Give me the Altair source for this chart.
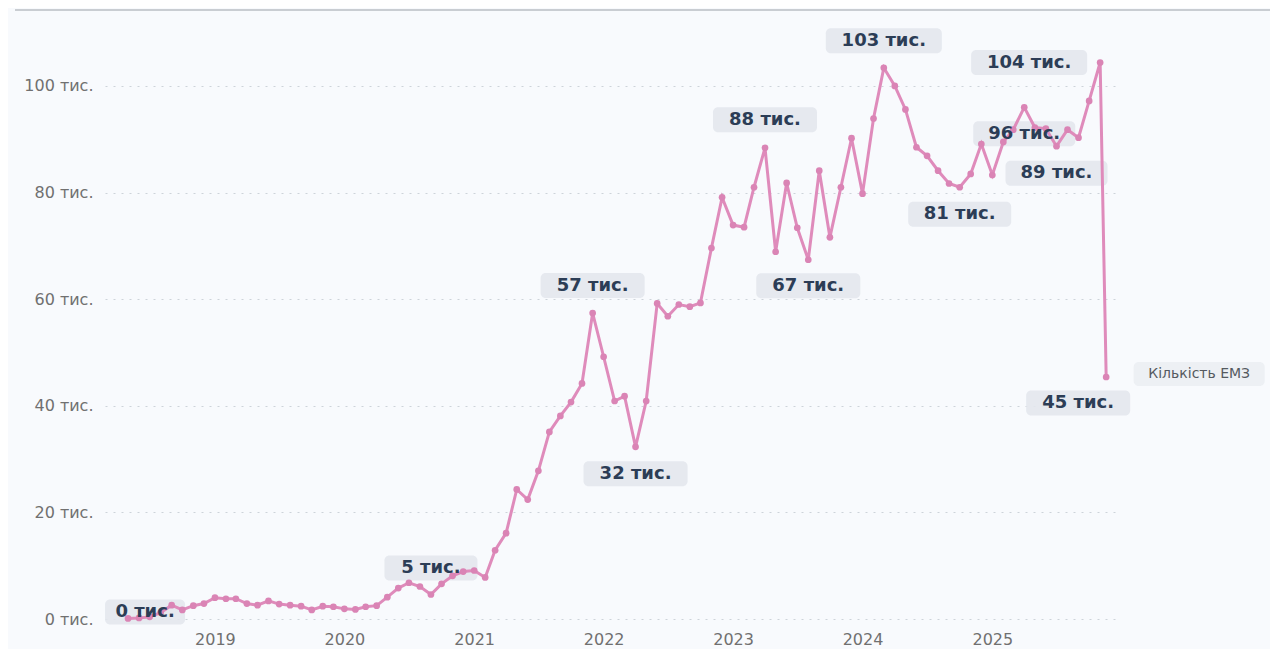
import altair as alt
import pandas as pd

# ---------------- data (values in thousands) ----------------
first_month = "2018-05-01"
last_month = "2025-11-01"
values_2018 = [0.1, 0.2, 0.4, 1.2, 2.6, 1.7, 2.5, 2.9]  # May..Dec
values_2019 = [4.0, 3.8, 3.8, 2.9, 2.6, 3.4, 2.8, 2.6, 2.4, 1.7, 2.4, 2.3]
values_2020 = [1.9, 1.8, 2.3, 2.5, 4.1, 5.8, 6.8, 6.1, 4.6, 6.6, 8.1, 8.9]
values_2021 = [9.1, 7.8, 12.9, 16.1, 24.3, 22.4, 27.8, 35.1, 38.1, 40.7, 44.2, 57.4]
values_2022 = [49.2, 40.9, 41.8, 32.3, 40.9, 59.2, 56.8, 59.0, 58.6, 59.3, 69.6, 79.1]
values_2023 = [73.9, 73.5, 81.0, 88.4, 68.9, 81.8, 73.4, 67.4, 84.1, 71.6, 81.0, 90.2]
values_2024 = [79.8, 93.9, 103.4, 100.0, 95.6, 88.5, 86.9, 84.1, 81.7, 81.0, 83.5, 89.1]
values_2025 = [83.3, 89.5, 91.8, 96.0, 92.2, 92.0, 88.7, 91.8, 90.3, 97.2, 104.4]  # Jan..Nov
last_date = "2025-11-18"
last_value = 45.4
series_name = "Кількість ЕМЗ"

y_ticks = [0, 20, 40, 60, 80, 100]
year_ticks = [2019, 2020, 2021, 2022, 2023, 2024, 2025]

label_dates = ["2018-05-01", "2020-09-01", "2021-12-01", "2022-04-01", "2023-04-01",
               "2023-08-01", "2024-03-01", "2024-10-01", "2025-04-01", "2025-07-01",
               "2025-11-01", "2025-11-18"]
label_texts = ["0 тис.", "5 тис.", "57 тис.", "32 тис.", "88 тис.", "67 тис.",
               "103 тис.", "81 тис.", "96 тис.", "89 тис.", "104 тис.", "45 тис."]

# label placement relative to its point (pixels) -- layout, not data
label_dx = [17, 0, 0, 0, 0, 0, 0, 0, 0, 0, -71, -28]
label_dy = [-6.5, -26.5, -27.5, 27, -28, 26, -27, 27, 26.5, 27, 0, 26]
label_w = [80, 93, 104, 104, 104, 104, 116, 103, 102, 102, 116, 104]
name_dx, name_dy, name_w = 93, -3, 131

# ---------------- layout ----------------
W, H = 1015, 597
x_start, x_end = "2018-02-25", "2025-12-27"
y_max = 112
BOX_H = 25


def ms(d):
    return int(pd.Timestamp(d).value // 10**6)


PX_PER_MS = W / (ms(x_end) - ms(x_start))
PX_PER_K = H / y_max

all_values = (values_2018 + values_2019 + values_2020 + values_2021 +
              values_2022 + values_2023 + values_2024 + values_2025)
months = pd.date_range(first_month, last_month, freq="MS")
series = pd.DataFrame({"t": [ms(m) for m in months], "v": all_values})
series = pd.concat([series, pd.DataFrame({"t": [ms(last_date)], "v": [last_value]})],
                   ignore_index=True)
lookup = dict(zip(series["t"], series["v"]))

rows = []
for d, txt, dx, dy, w in zip(label_dates, label_texts, label_dx, label_dy, label_w):
    t0 = ms(d)
    v0 = lookup[t0]
    tc = t0 + dx / PX_PER_MS
    vc = v0 - dy / PX_PER_K
    rows.append({"text": txt, "tc": tc, "vc": vc,
                 "t1": tc - w / 2 / PX_PER_MS, "t2": tc + w / 2 / PX_PER_MS,
                 "v1": vc - BOX_H / 2 / PX_PER_K, "v2": vc + BOX_H / 2 / PX_PER_K})
labels = pd.DataFrame(rows)

t0 = ms(last_date)
tc = t0 + name_dx / PX_PER_MS
vc = last_value - name_dy / PX_PER_K
name_df = pd.DataFrame([{"text": series_name, "tc": tc, "vc": vc,
                         "t1": tc - name_w / 2 / PX_PER_MS, "t2": tc + name_w / 2 / PX_PER_MS,
                         "v1": vc - 24 / 2 / PX_PER_K, "v2": vc + 24 / 2 / PX_PER_K}])

xscale = alt.Scale(type="utc", domain=[ms(x_start), ms(x_end)], nice=False)
yscale = alt.Scale(domain=[0, y_max], nice=False, zero=True)

x_axis = alt.Axis(values=[ms(f"{y}-01-01") for y in year_ticks], format="%Y",
                  title=None, ticks=False, domain=False, grid=False,
                  labelFontSize=16, labelColor="#707070", labelPadding=12,
                  labelFont="DejaVu Sans")
y_axis = alt.Axis(values=y_ticks, labelExpr="datum.value + ' тис.'", title=None,
                  ticks=False, domain=False, grid=True, gridColor="#cdd3da",
                  gridDash=[2, 6], gridWidth=1.2, labelFontSize=16,
                  labelColor="#707070", labelPadding=12, labelFont="DejaVu Sans")

LINE = "#df8bbb"

top_rule = alt.Chart(pd.DataFrame({"a": [0]})).mark_rule(
    color="#c9cdd2", strokeWidth=2
).encode(x=alt.value(-90), x2=alt.value(1165), y=alt.value(-12))

boxes = alt.Chart(labels).mark_rect(cornerRadius=5, fill="#e3e7ed", opacity=0.9).encode(
    x=alt.X("t1:T", scale=xscale, axis=x_axis),
    x2="t2:T",
    y=alt.Y("v1:Q", scale=yscale, axis=y_axis),
    y2="v2:Q",
)

name_box = alt.Chart(name_df).mark_rect(cornerRadius=5, fill="#ebeef3", opacity=0.9).encode(
    x=alt.X("t1:T", scale=xscale), x2="t2:T",
    y=alt.Y("v1:Q", scale=yscale), y2="v2:Q",
)

line = alt.Chart(series).mark_line(
    color=LINE, strokeWidth=3,
    point=alt.OverlayMarkDef(filled=True, size=45, color="#da84b5")
).encode(
    x=alt.X("t:T", scale=xscale),
    y=alt.Y("v:Q", scale=yscale),
)

texts = alt.Chart(labels).mark_text(
    font="DejaVu Sans", fontSize=18, fontWeight="bold", color="#2c3d56",
    align="center", baseline="middle"
).encode(
    x=alt.X("tc:T", scale=xscale),
    y=alt.Y("vc:Q", scale=yscale),
    text="text:N",
)

name_text = alt.Chart(name_df).mark_text(
    font="DejaVu Sans", fontSize=14, color="#555a60", align="center", baseline="middle"
).encode(
    x=alt.X("tc:T", scale=xscale),
    y=alt.Y("vc:Q", scale=yscale),
    text="text:N",
)

chart = alt.layer(top_rule, boxes, name_box, line, texts, name_text).properties(
    width=W, height=H,
    autosize=alt.AutoSizeParams(type="none"),
    padding={"left": 97, "top": 14, "right": 150, "bottom": 30},
    background="#f8fafd",
).configure_view(stroke=None)

chart.save("out.html", embed_options={"renderer": "svg", "actions": False})
